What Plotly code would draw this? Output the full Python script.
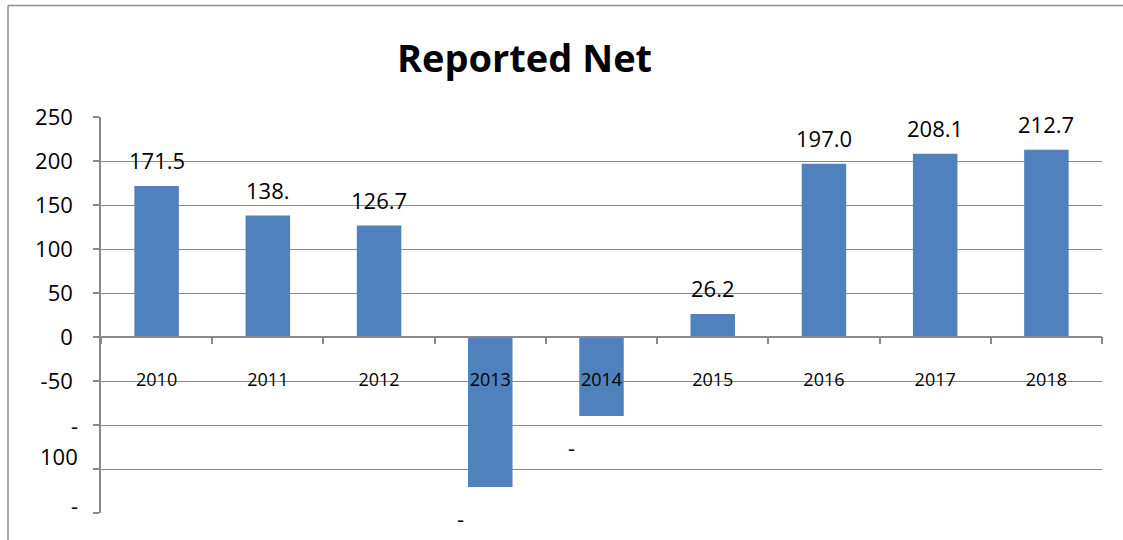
import plotly.graph_objects as go

# ---- data ----
years = ["2010", "2011", "2012", "2013", "2014", "2015", "2016", "2017", "2018"]
reported_net = [171.5, 138.0, 126.7, -170.5, -89.8, 26.2, 197.0, 208.1, 212.7]
value_labels = ["171.5", "138.", "126.7", "-", "-", "26.2", "197.0", "208.1", "212.7"]
ytick_vals = [250, 200, 150, 100, 50, 0, -50, -100, -150, -200]
ytick_text = ["250", "200", "150", "100", "50", "0", "-50", "-", "100", "-"]
title_text = "Reported Net"

FONT = "Open Sans, Lato, Liberation Sans, sans-serif"
GRID = "#8a8a8a"
BAR = "#4F81BD"

W, H = 1123, 540
L, R, T, B = 101, 21, 117, 27
pw, ph = W - L - R, H - T - B

def px_x(p):
    return (p - L) / pw

def px_y(p):
    return (H - B - p) / ph

fig = go.Figure()
fig.add_trace(go.Bar(x=years, y=reported_net, marker=dict(color=BAR, line=dict(width=0)),
                     showlegend=False, hoverinfo="x+y"))

annotations = []
# data labels (category index used as x position on the category axis)
for i, (v, t) in enumerate(zip(reported_net, value_labels)):
    if v >= 0:
        annotations.append(dict(x=i, y=v, xref="x", yref="y", text=t, showarrow=False,
                                yanchor="middle", yshift=26,
                                font=dict(family=FONT, size=22, color="#000000")))
    else:
        annotations.append(dict(x=i, y=v, xref="x", yref="y", text=t, showarrow=False,
                                yanchor="middle", yshift=-31, xshift=-30,
                                font=dict(family=FONT, size=22, color="#000000")))

# wrapped lower y tick labels (drawn as annotations at their displaced spots)
shift_map = {-100: 0, -150: 13, -200: 8}
axis_text = []
for v, t in zip(ytick_vals, ytick_text):
    if v in shift_map:
        axis_text.append("")
        annotations.append(dict(x=px_x(79), y=v, xref="paper", yref="y", text=t,
                                showarrow=False, xanchor="right", yanchor="middle",
                                yshift=shift_map[v], borderpad=0,
                                font=dict(family=FONT, size=22, color="#000000")))
    else:
        axis_text.append(t)

# title
annotations.append(dict(x=px_x(524), y=px_y(57), xref="paper", yref="paper", text="<b>" + title_text + "</b>",
                        showarrow=False, xanchor="center", yanchor="middle",
                        font=dict(family=FONT, size=38, color="#000000")))

shapes = [
    dict(type="line", xref="paper", yref="paper", x0=px_x(8), x1=px_x(8), y0=px_y(5.5), y1=px_y(545),
         line=dict(color="#8c8c8c", width=1.5)),
    dict(type="line", xref="paper", yref="paper", x0=px_x(8), x1=px_x(1130), y0=px_y(5.5), y1=px_y(5.5),
         line=dict(color="#8c8c8c", width=1.5)),
]

fig.update_layout(
    width=W, height=H,
    margin=dict(l=L, r=R, t=T, b=B, pad=0),
    paper_bgcolor="white", plot_bgcolor="white",
    bargap=0.6,
    annotations=annotations,
    shapes=shapes,
    font=dict(family=FONT, color="#000000"),
)

fig.update_xaxes(
    type="category",
    range=[-0.5, 8.5],
    anchor="free", position=px_y(336.7),
    showline=True, linecolor=GRID, linewidth=1.5,
    ticks="outside", tickson="boundaries", ticklen=7, tickcolor=GRID, tickwidth=1.5,
    showgrid=False, zeroline=False,
    tickfont=dict(family=FONT, size=18, color="#000000"),
    ticklabelstandoff=27,
)

fig.update_yaxes(
    range=[-200, 250],
    tickmode="array", tickvals=ytick_vals, ticktext=axis_text,
    showgrid=True, gridcolor=GRID, gridwidth=1.3,
    zeroline=False,
    showline=True, linecolor=GRID, linewidth=1.5,
    ticks="outside", ticklen=6, tickcolor=GRID, tickwidth=1.5,
    tickfont=dict(family=FONT, size=22, color="#000000"),
    ticklabelstandoff=16,
)

fig.write_html("out.html", config={"displayModeBar": False},
               post_script="document.body.style.margin='0px';document.body.style.overflow='hidden';")
